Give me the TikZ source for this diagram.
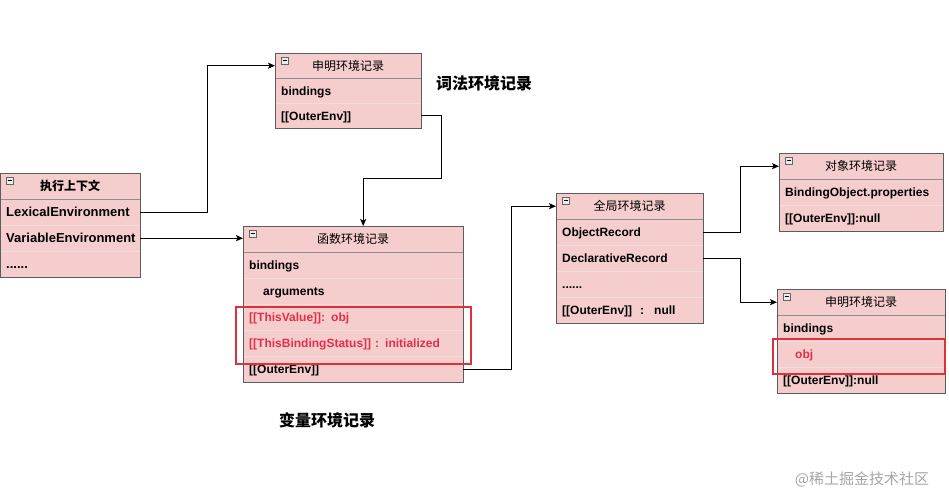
\documentclass[tikz,border=0pt]{standalone}
\usepackage{fontspec}
\setmainfont{Liberation Sans}
\newfontfamily\cjk{Noto Sans CJK SC}
\usetikzlibrary{arrows.meta}
\definecolor{recfill}{HTML}{F5CDCC}
\definecolor{recline}{HTML}{5C5C5C}
\definecolor{sepline}{HTML}{F2DCDC}
\definecolor{hired}{HTML}{E0303A}
\definecolor{txtred}{HTML}{E03048}
\newcommand\sixdots{......}
\tikzset{
  x=1pt,y=-1pt,
  hdr/.style={fill=recfill,draw=none,inner sep=0pt,font=\cjk\fontsize{12}{14}\selectfont},
  rowbox/.style={fill=recfill,draw=sepline,inner xsep=6pt,inner ysep=0pt,align=left,
    text height=9pt,text depth=0pt,font=\bfseries\fontsize{12}{14}\selectfont},
  outer/.style={draw=recline,line width=0.9pt},
  icon/.style={draw=gray!80!black,fill=white!85!gray,line width=0.5pt},
  conn/.style={draw=black,line width=0.9pt,-{Stealth[length=7pt,width=6pt,inset=1.5pt]}},
  hibox/.style={draw=hired,line width=1.6pt},
  biglabel/.style={font=\cjk\bfseries\fontsize{16}{18}\selectfont,inner sep=0pt},
}
% #1 name, #2 x, #3 y, #4 width, #5 row height, #6 header, #7 rows, #8 row font
\newcommand\recbox[8]{%
  \node[hdr,minimum width=#4,minimum height=#5,anchor=north west] (#1h) at (#2,#3) {#6};
  \pgfmathsetmacro\rbtw{#4-12}%
  \foreach[count=\i] \t in {#7} {%
    \node[rowbox,text width=\rbtw pt,minimum height=#5,anchor=north west,font=#8]
      (#1-\i) at (#2,{#3+#5*\i}) {\t};
    \xdef\rblast{\i}%
  }
  \draw[recline!70,line width=0.6pt] (#1h.south west) -- (#1h.south east);
  \draw[outer] (#1h.north west) rectangle (#1-\rblast.south east);
  \draw[icon] ([shift={(6,4)}]#1h.north west) rectangle ++(7,7);
  \draw[black,line width=0.6pt] ([shift={(7.5,7.5)}]#1h.north west) -- ++(4,0);
}
\begin{document}
\begin{tikzpicture}
\useasboundingbox (0,0) rectangle (949,497);
\fill[white] (0,0) rectangle (949,497);

\recbox{ec}{0}{173}{140}{26}{\bfseries 执行上下文}{LexicalEnvironment,VariableEnvironment,\sixdots}{\bfseries\fontsize{13}{15}\selectfont}
\recbox{lex}{275}{53}{146}{25}{申明环境记录}{bindings,[[OuterEnv]]}{\bfseries\fontsize{12}{14}\selectfont}
\recbox{fn}{243}{226}{220}{26}{函数环境记录}{bindings,\hspace*{14pt}arguments,\textcolor{txtred}{[[ThisValue]]: obj},\textcolor{txtred}{[[ThisBindingStatus]] : initialized},[[OuterEnv]]}{\bfseries\fontsize{12}{14}\selectfont}
\recbox{gl}{556}{193}{147}{26}{全局环境记录}{ObjectRecord,DeclarativeRecord,\sixdots,[[OuterEnv]] \ : \ null}{\bfseries\fontsize{12}{14}\selectfont}
\recbox{ob}{779}{153}{164}{26}{对象环境记录}{BindingObject.properties,[[OuterEnv]]:null}{\bfseries\fontsize{12}{14}\selectfont}
\recbox{dc}{777}{289}{168}{26}{申明环境记录}{bindings,\hspace*{12pt}\textcolor{txtred}{obj},[[OuterEnv]]:null}{\bfseries\fontsize{12}{14}\selectfont}

% highlight boxes
\node[hibox,draw,fill=none,minimum width=235,minimum height=57,inner sep=0pt,anchor=north west] (hi1) at (235,306) {};
\node[hibox,draw,fill=none,minimum width=172,minimum height=35,inner sep=0pt,anchor=north west] (hi2) at (772,338) {};

% labels
\node[biglabel] (lexlabel) at (484,83) {词法环境记录};
\node[biglabel] (varlabel) at (327,420) {变量环境记录};
\node[font=\cjk\fontsize{15}{17}\selectfont,text=gray!70,inner sep=0pt] (wm) at (862,479) {@稀土掘金技术社区};

% connectors
\coordinate (k1) at (441,178);
\draw[conn] (ec-1.east) -- ++(67,0) |- (lexh.west);
\draw[conn] (ec-2.east) -- (ec-2.east -| fnh.west);
\draw[conn] (lex-2.east) -| (k1) -| ([xshift=10]fnh.north);
\draw[conn] (fn-5.east) -- ++(48,0) |- (glh.west);
\draw[conn] (gl-1.east) -- ++(37,0) |- (obh.west);
\draw[conn] (gl-2.east) -- ++(37,0) |- (dch.west);
\end{tikzpicture}
\end{document}
